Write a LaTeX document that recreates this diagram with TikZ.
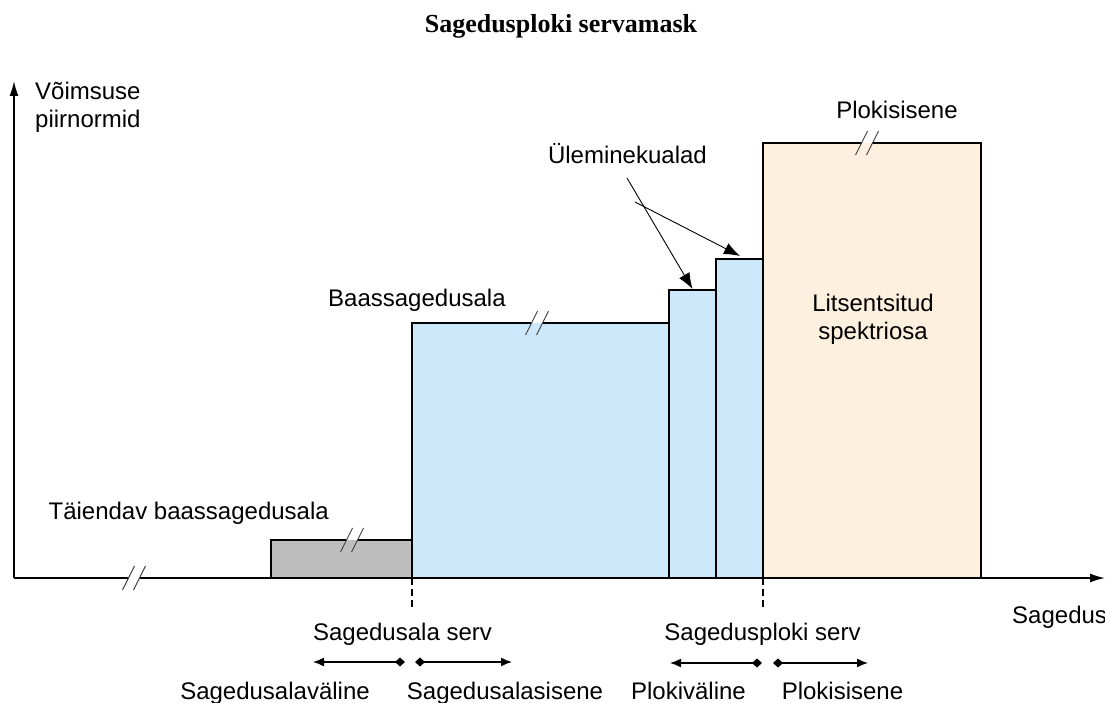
\documentclass[tikz,border=0pt]{standalone}
\usepackage{fontspec}
\setmainfont{Liberation Sans}
\newfontfamily\titlefont{Liberation Serif}
\usetikzlibrary{arrows.meta,positioning}
\definecolor{bandblue}{HTML}{CCE8FA}
\definecolor{licbeige}{HTML}{FDF0DE}
\definecolor{extragray}{HTML}{BEBEBE}
% break mark "//" on an edge, lower side filled with #2
\newcommand{\brk}[2]{%
  \begin{scope}[shift={(#1)}]
    \fill[white] (-5.5,0) -- (5.5,0) -- (6.8,2.6) -- (-4.2,2.6) -- cycle;
    \fill[#2] (-6.8,-2.6) -- (4.2,-2.6) -- (5.5,0) -- (-5.5,0) -- cycle;
    \draw[line width=0.9pt, black!75] (-11.5,-12) -- (0.5,12) (-0.5,-12) -- (11.5,12);
  \end{scope}}

\begin{document}
\begin{tikzpicture}[x=1pt, y=1pt,
    lbl/.style={font=\fontsize{24}{28}\selectfont, inner sep=0pt},
    band/.style={draw, line width=1.6pt},
    edgeline/.style={line width=1.4pt, dash pattern=on 7pt off 4pt},
    pointer/.style={line width=0.9pt, -{Latex[length=16pt, width=12pt]}},
    sidearrow/.style={line width=1.4pt, {Diamond[length=10pt, width=9pt]}-{Latex[length=11pt, width=9pt]}}]

  \useasboundingbox (0,0) rectangle (1105,702);

  % Title
  \node[font=\titlefont\bfseries\fontsize{26}{30}\selectfont, anchor=base] (title) at (561,669) {Sagedusploki servamask};

  % Blocks
  \draw[band, fill=extragray] (271,124) rectangle (412,162);
  \draw[band, fill=bandblue] (412,124) rectangle (669,379);
  \draw[band, fill=bandblue] (669,124) rectangle (716,412);
  \draw[band, fill=bandblue] (716,124) rectangle (763,443);
  \draw[band, fill=licbeige] (763,124) rectangle (981,559);

  % Axes
  \coordinate (origin) at (14,124);
  \coordinate (ytip) at (14,621);
  \coordinate (xtip) at (1105,124);
  \draw[line width=1.6pt, -{Latex[length=15pt, width=9pt]}] (origin) -- (ytip);
  \draw[line width=1.6pt, -{Latex[length=15pt, width=9pt]}] (origin) -- (xtip);

  % Breaks
  \brk{134,124}{white}
  \brk{352,162}{extragray}
  \brk{537,379}{bandblue}
  \brk{867,559}{licbeige}

  % Edges
  \coordinate (rangeedge) at (412,124);
  \coordinate (rangeend) at (412,94);
  \coordinate (blockedge) at (763,124);
  \coordinate (blockend) at (763,92);
  \draw[edgeline] (rangeedge) -- (rangeend);
  \draw[edgeline] (blockedge) -- (blockend);

  % Labels
  \node[lbl, anchor=base west, align=left] (ylabel) at (35,574) {Võimsuse\\piirnormid};
  \node[lbl, anchor=base west] (xlabel) at (1012,79) {Sagedus};
  \node[lbl, anchor=base] (inner) at (897,583) {Plokisisene};
  \node[lbl, anchor=base east] (trans) at (707,538) {Üleminekualad};
  \node[lbl, anchor=base west] (base) at (328,395) {Baassagedusala};
  \node[lbl, anchor=base east] (extra) at (329,183) {Täiendav baassagedusala};
  \node[lbl, anchor=base, align=center] (lic) at (873,362) {Litsentsitud\\spektriosa};

  % Transition pointers
  \coordinate (tstart1) at (627,524);
  \coordinate (tstart2) at (635,500);
  \coordinate (ttop1) at (692.5,413);
  \coordinate (ttop2) at (740,446);
  \draw[pointer] (tstart1) -- (ttop1);
  \draw[pointer] (tstart2) -- (ttop2);

  % Range edge legend
  \node[lbl, anchor=base] (rangelbl) at (402.5,62) {Sagedusala serv};
  \coordinate (rl) at (405,40); \coordinate (rlt) at (313,40);
  \coordinate (rr) at (415,40); \coordinate (rrt) at (512,40);
  \draw[sidearrow] (rl) -- (rlt);
  \draw[sidearrow] (rr) -- (rrt);
  \node[lbl, anchor=base] (rangeout) at (275,3) {Sagedusalaväline};
  \node[lbl, anchor=base] (rangein) at (505,3) {Sagedusalasisene};

  % Block edge legend
  \node[lbl, anchor=base] (blocklbl) at (762.5,62) {Sagedusploki serv};
  \coordinate (bl) at (762,39); \coordinate (blt) at (670,39);
  \coordinate (br) at (773,39); \coordinate (brt) at (868,39);
  \draw[sidearrow] (bl) -- (blt);
  \draw[sidearrow] (br) -- (brt);
  \node[lbl, anchor=base] (blockout) at (688.5,3) {Plokiväline};
  \node[lbl, anchor=base] (blockin) at (842.5,3) {Plokisisene};
\end{tikzpicture}
\end{document}
